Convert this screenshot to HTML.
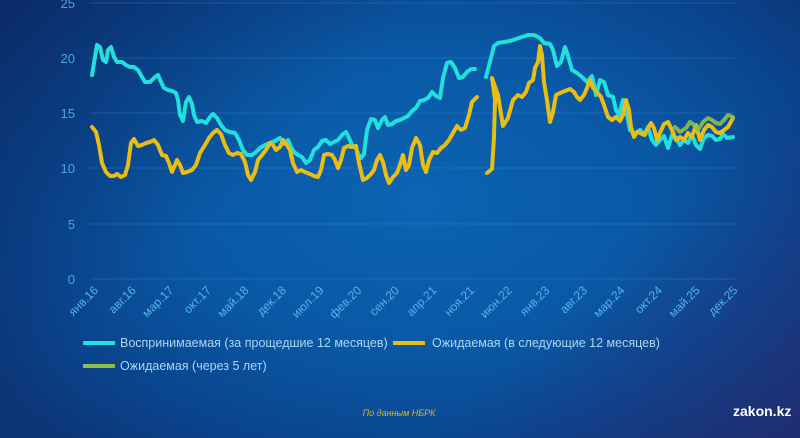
<!DOCTYPE html>
<html><head><meta charset="utf-8"><style>
html,body{margin:0;padding:0}
body{width:800px;height:438px;overflow:hidden;position:relative;font-family:"Liberation Sans",sans-serif;
background:radial-gradient(ellipse 520px 330px at 420px 200px,#0b64b2 0%,#0a58a5 45%,#0a4690 75%,#0c3577 100%);}
.bg2{position:absolute;left:0;top:0;width:800px;height:438px;background:linear-gradient(135deg,rgba(10,35,90,0.55) 0%,rgba(0,0,0,0) 35%,rgba(0,0,0,0) 70%,rgba(45,40,110,0.6) 100%)}
svg{position:absolute;left:0;top:0}
</style></head><body><div class="bg2"></div>
<svg width="800" height="438" viewBox="0 0 800 438">
<g stroke="#3d8cd0" stroke-opacity="0.35" stroke-width="1">
<line x1="90" y1="3" x2="735" y2="3"/><line x1="90" y1="58" x2="735" y2="58"/><line x1="90" y1="113" x2="735" y2="113"/><line x1="90" y1="168" x2="735" y2="168"/><line x1="90" y1="224" x2="735" y2="224"/><line x1="90" y1="279" x2="735" y2="279"/>
</g>
<g fill="#4aa6df" font-size="13" text-anchor="end" font-family="Liberation Sans,sans-serif">
<text x="75" y="8">25</text><text x="75" y="63">20</text><text x="75" y="118">15</text><text x="75" y="173">10</text><text x="75" y="229">5</text><text x="75" y="284">0</text>
</g>
<g fill="#4fb6ea" font-size="12" text-anchor="end" font-family="Liberation Sans,sans-serif">
<text transform="translate(99,291) rotate(-45)">янв.16</text>
<text transform="translate(136.6,291) rotate(-45)">авг.16</text>
<text transform="translate(174.2,291) rotate(-45)">мар.17</text>
<text transform="translate(211.8,291) rotate(-45)">окт.17</text>
<text transform="translate(249.4,291) rotate(-45)">май.18</text>
<text transform="translate(287,291) rotate(-45)">дек.18</text>
<text transform="translate(324.6,291) rotate(-45)">июл.19</text>
<text transform="translate(362.2,291) rotate(-45)">фев.20</text>
<text transform="translate(399.8,291) rotate(-45)">сен.20</text>
<text transform="translate(437.4,291) rotate(-45)">апр.21</text>
<text transform="translate(475,291) rotate(-45)">ноя.21</text>
<text transform="translate(512.6,291) rotate(-45)">июн.22</text>
<text transform="translate(550.2,291) rotate(-45)">янв.23</text>
<text transform="translate(587.8,291) rotate(-45)">авг.23</text>
<text transform="translate(625.4,291) rotate(-45)">мар.24</text>
<text transform="translate(663,291) rotate(-45)">окт.24</text>
<text transform="translate(700.6,291) rotate(-45)">май.25</text>
<text transform="translate(738.2,291) rotate(-45)">дек.25</text>
</g>
<g fill="none" stroke-width="4" stroke-linejoin="round" stroke-linecap="round">
<polyline stroke="#1fe0dc" points="92,75 97,45 100,47 103,60 106,62 108,50 111,47 114,57 117,62 122,62 126,65 130,67 134,67 138,70 142,77 145,82 150,82 155,77 158,75 161,82 164,88 168,90 172,91 176,93 178,100 180,115 183,121 186,102 189,97 192,104 194,115 197,122 202,121 206,123 210,117 213,114 217,118 221,125 225,130 230,132 235,133 239,140 243,150 247,155 252,155 256,152 260,148 265,145 270,143 275,141 280,138 284,144 288,140 291,147 294,152 298,155 302,157 306,163 310,160 314,150 318,147 322,141 326,140 330,144 334,142 338,140 343,134 346,132 349,138 352,145 356,148 358,154 361,158 364,154 367,130 371,119 375,120 378,128 382,120 385,117 388,125 392,124 396,121 400,120 404,118 408,116 412,111 416,108 420,101 424,100 428,98 432,92 436,96 440,98 443,78 447,63 451,62 455,68 459,78 463,77 467,72 471,69 475,69"/>
<polyline stroke="#1fe0dc" points="486,77 494,46 498,43 504,42 510,41 516,39 522,37 528,35 534,35 540,38 544,43 550,44 553,50 557,66 561,62 565,47 568,56 572,70 577,73 582,77 587,82 592,76 594,85 596,95 600,80 604,82 608,95 613,97 616,110 619,115 623,100 626,110 630,130 635,134 640,130 645,135 648,127 652,140 656,145 660,140 664,136 668,148 672,135 676,138 680,145 684,140 688,143 692,135 696,145 700,149 704,138 708,135 712,136 716,140 720,139 723,134 727,138 733,137"/>
<polyline stroke="#e9bd14" points="92,127 96,132 99,145 102,163 106,172 110,176 114,176 117,174 121,177 125,175 128,165 131,143 134,139 138,146 142,145 146,143 150,142 154,140 158,145 162,155 166,156 169,163 172,172 175,165 177,160 180,165 183,173 187,172 192,170 196,165 200,153 205,145 209,138 213,133 217,130 221,134 225,145 229,153 233,155 237,153 241,154 245,162 248,175 251,180 255,172 258,160 262,155 266,150 270,143 273,145 276,150 280,147 283,140 287,145 290,150 293,163 297,172 301,170 305,172 310,174 314,176 318,177 321,170 324,155 328,154 332,155 335,160 338,168 341,160 344,148 348,146 352,147 356,146 359,163 363,180 367,178 371,174 374,170 377,160 380,155 383,162 386,175 389,183 393,177 397,173 400,165 403,155 406,170 409,165 412,148 416,138 420,145 423,165 426,172 429,160 433,152 437,153 441,148 445,145 449,140 453,133 457,126 461,130 465,128 469,115 472,102 477,97"/>
<polyline stroke="#e9bd14" points="487,173 492,169 494,137 495,100 492,78 498,95 503,126 508,118 513,100 518,95 522,97 526,92 529,83 533,80 535,68 538,62 540,46 542,55 544,82 547,100 550,122 553,112 556,95 560,93 565,91 570,89 574,92 577,97 580,100 584,95 587,88 590,80 593,88 597,92 601,97 604,105 608,117 612,120 616,117 620,121 623,115 626,100 629,110 631,127 634,137 637,132 640,133 644,135 647,130 651,123 654,128 657,140 660,133 664,124 668,122 672,130 676,140 680,137 684,140 688,133 692,137 696,125 700,140 704,130 708,125 712,127 716,132 720,133 724,130 728,127 733,118"/>
<polyline stroke="#8dbf4a" stroke-opacity="0.9" points="675,127 680,132 686,128 690,122 694,125 698,130 703,122 708,118 712,120 716,123 720,124 724,120 728,115 733,117"/>
</g>
<g stroke-width="4">
<line x1="83" y1="343" x2="115" y2="343" stroke="#1fe0dc"/>
<line x1="393" y1="343" x2="425" y2="343" stroke="#e9bd14"/>
<line x1="83" y1="366" x2="115" y2="366" stroke="#8dbf4a"/>
</g>
<g fill="#a9d6f5" font-size="12.5" font-family="Liberation Sans,sans-serif">
<text x="120" y="347">Воспринимаемая (за прощедшие 12 месяцев)</text>
<text x="432" y="347">Ожидаемая (в следующие 12 месяцев)</text>
<text x="120" y="370">Ожидаемая (через 5 лет)</text>
</g>
<text x="399" y="416" fill="#e0b41c" font-size="9" font-style="italic" text-anchor="middle" font-family="Liberation Sans,sans-serif">По данным НБРК</text>
<text x="733" y="416" fill="#ffffff" font-size="14" font-weight="bold" font-family="Liberation Sans,sans-serif">zakon.kz</text>
</svg>
</body></html>
